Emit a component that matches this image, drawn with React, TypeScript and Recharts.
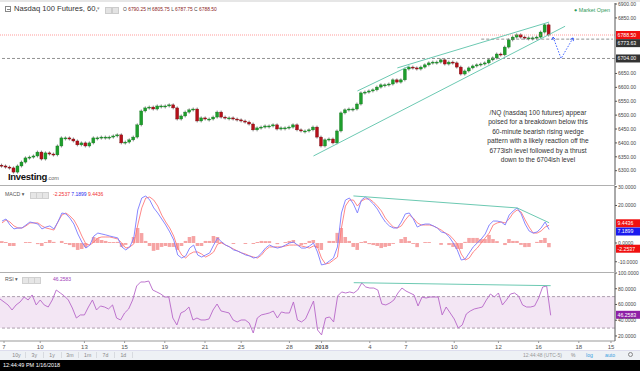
import React from 'react';
import { ComposedChart, Bar, Line, XAxis, YAxis, ReferenceLine, ReferenceArea } from 'recharts';

// ---------------- DATA ----------------
const firstOpen = 6320;
const closes = [
  6317, 6313, 6310, 6295, 6317, 6331, 6346, 6349, 6353, 6367,
  6342, 6364, 6360, 6357, 6389, 6418, 6418, 6414, 6407, 6393,
  6400, 6389, 6400, 6418, 6418, 6421, 6421, 6421, 6425, 6429,
  6400, 6403, 6411, 6421, 6465, 6515, 6526, 6529, 6522, 6533,
  6533, 6533, 6537, 6526, 6486, 6497, 6511, 6519, 6522, 6479,
  6490, 6486, 6486, 6493, 6511, 6493, 6490, 6490, 6486, 6483,
  6479, 6475, 6468, 6447, 6454, 6457, 6461, 6461, 6465, 6450,
  6454, 6454, 6457, 6465, 6447, 6443, 6443, 6447, 6457, 6421,
  6389, 6411, 6414, 6400, 6443, 6508, 6519, 6522, 6522, 6540,
  6580, 6583, 6587, 6591, 6601, 6609, 6609, 6612, 6627, 6619,
  6627, 6666, 6673, 6670, 6666, 6673, 6681, 6688, 6691, 6691,
  6699, 6684, 6691, 6688, 6673, 6648, 6659, 6670, 6677, 6681,
  6684, 6688, 6699, 6706, 6720, 6717, 6745, 6771, 6781, 6789,
  6781, 6778, 6778, 6778, 6781, 6799, 6825, 6788.5,
];

const macdLine = [
  11.7, 12.8, 9.6, 7.5, 8.0, 8.0, 9.6, 11.2, 10.7, 10.1,
  7.5, 8.5, 9.1, 7.5, 11.2, 16.0, 15.5, 13.3, 10.1, 4.8,
  0.5, -2.7, -1.1, 3.7, 5.3, 4.8, 4.3, 3.7, 3.2, 2.7,
  -2.1, -3.7, -2.1, 2.7, 17.6, 24.0, 25.1, 22.9, 18.7, 16.0,
  12.8, 9.6, 5.9, 1.6, -6.4, -8.0, -6.9, -2.7, -1.1, -6.4,
  -7.5, -6.4, -5.3, -1.1, 2.7, 0.5, -1.1, -2.1, -3.7, -4.3,
  -5.3, -6.4, -6.9, -8.0, -7.5, -5.3, -2.7, -1.1, -2.1, -2.7,
  -2.1, -1.1, 0, 0.5, -1.1, -2.7, -2.7, -1.6, 0, -4.8,
  -11.7, -11.2, -9.6, -8.0, -2.1, 16.0, 22.9, 24.0, 20.8, 16.0,
  22.9, 24.5, 22.9, 20.8, 18.1, 14.4, 11.2, 9.1, 8.0, 8.0,
  11.2, 15.5, 16.0, 12.8, 8.5, 9.6, 10.1, 10.1, 9.1, 8.0,
  5.9, 5.3, 3.2, 0, -3.7, -9.1, -8.5, -5.3, -2.1, 0,
  2.1, 4.8, 9.6, 11.7, 11.7, 11.2, 9.6, 14.9, 17.1, 18.7,
  15.5, 10.1, 6.4, 5.3, 5.9, 8.0, 11.2, 7.1899,
];

const signalLine = [
  10.7, 12.3, 11.2, 9.1, 8.0, 8.0, 9.1, 10.7, 10.7, 10.7,
  9.1, 8.0, 7.5, 6.9, 11.2, 14.9, 16.0, 14.4, 12.3, 8.5,
  3.7, -0.5, -1.1, 0.5, 2.7, 3.2, 3.2, 3.2, 2.7, 2.1,
  0, -2.7, -2.1, -0.5, 9.6, 18.7, 24.0, 24.5, 22.9, 19.7,
  14.9, 11.2, 8.0, 3.7, -2.7, -6.4, -8.0, -5.9, -4.8, -4.8,
  -5.9, -7.5, -6.4, -4.8, -0.5, 0, -1.1, -2.1, -3.2, -4.3,
  -5.3, -5.9, -6.9, -7.5, -8.0, -6.4, -3.7, -2.1, -2.1, -2.1,
  -2.1, -1.6, -1.1, -1.1, -1.1, -1.6, -2.1, -2.7, -1.6, -2.1,
  -8.0, -11.2, -10.7, -9.1, -7.5, 8.0, 19.7, 22.9, 22.9, 19.7,
  22.4, 23.5, 23.5, 21.9, 19.7, 17.1, 13.3, 10.7, 8.5, 8.0,
  9.1, 12.3, 14.9, 13.3, 10.7, 9.6, 9.6, 9.6, 9.1, 8.0,
  6.9, 5.3, 4.3, 2.1, -0.5, -5.9, -9.1, -8.0, -4.8, -2.7,
  0, 2.7, 5.3, 9.6, 10.7, 11.2, 10.7, 12.8, 16.0, 17.6,
  16.5, 12.3, 8.5, 5.3, 5.3, 6.4, 8.5, 9.4436,
];

const rsiLine = [
  67.0, 63.2, 59.4, 53.0, 59.4, 63.2, 69.5, 65.7, 72.1, 59.4,
  65.7, 59.4, 56.8, 65.7, 78.4, 74.6, 70.8, 65.7, 55.5, 42.8,
  46.7, 46.7, 56.8, 65.7, 53.0, 58.1, 56.8, 54.3, 59.4, 42.8,
  40.3, 49.2, 54.3, 65.7, 83.5, 88.6, 88.6, 89.8, 78.4, 75.9,
  73.3, 69.5, 69.5, 42.8, 34.0, 49.2, 51.7, 56.8, 40.3, 42.8,
  40.3, 40.3, 41.6, 53.0, 60.6, 51.7, 50.5, 49.2, 40.3, 37.8,
  40.3, 40.3, 36.5, 23.8, 42.8, 46.7, 47.9, 49.2, 51.7, 42.8,
  50.5, 49.2, 49.2, 63.2, 40.3, 37.8, 41.6, 53.0, 64.4, 27.6,
  21.3, 42.8, 44.1, 37.8, 70.8, 75.9, 74.6, 75.9, 74.6, 78.4,
  87.3, 82.2, 80.9, 80.9, 78.4, 60.6, 59.4, 61.9, 65.7, 74.6,
  80.9, 77.1, 74.6, 72.1, 58.1, 69.5, 68.2, 69.5, 69.5, 69.5,
  46.7, 56.8, 49.2, 41.6, 30.1, 34.0, 47.9, 51.7, 54.3, 55.5,
  56.8, 65.7, 73.3, 69.5, 74.6, 59.4, 65.7, 73.3, 74.6, 70.8,
  59.4, 56.8, 56.8, 58.1, 68.2, 82.2, 83.5, 46.2583,
];

// drawn trend lines: [slot index, value]
const wedgeUpperA: [number, number][] = [[89, 6587], [102, 6677]];
const wedgeUpperB: [number, number][] = [[99, 6670], [137, 6835]];
const wedgeLower: [number, number][] = [[78, 6353], [141, 6820]];
const projection: [number, number][] = [[138, 6781], [140, 6704], [143, 6778]];
const macdDivergence: [number, number][] = [[88, 25.1], [129, 18.7], [137, 10.8]];
const rsiDivergence: [number, number][] = [[88, 87.7], [137, 83.9]];

const dateTickIndex = [1, 10, 21, 31, 41, 51, 60, 72, 80, 92, 101, 113, 124, 134, 144, 152];
const dateTickLabel = ['7', '10', '13', '15', '19', '21', '25', '28', '2018', '4', '7', '10', '12', '16', '18', '15'];

const priceTicks = [6300, 6350, 6400, 6450, 6500, 6550, 6600, 6650, 6850, 6900];
const macdTicks = [-10, 0, 20, 30];
const rsiTicks = [20, 40, 60, 80, 100];

const lastBar = { o: 6790.25, h: 6805.75, l: 6787.75, c: 6788.5 };
const levelLast = 6788.5;
const levelReaction = 6773.63;
const levelTarget = 6704.0;

const noteLines = [
  '/NQ (nasdaq 100 futures) appear',
  'poised for a breakdown below this',
  '60-minute bearish rising wedge',
  'pattern with a likely reaction off the',
  '6773ish level followed by a thrust',
  'down to the 6704ish level',
];

const rangeButtons = ['10y', '3y', '1y', '3m', '1m', '7d', '1d'];

// ---------------- TABLE ----------------
const SLOTS = 154;
const rows: any[] = Array.from({ length: SLOTS }, (_, i) => {
  const r: any = { i };
  if (i < closes.length) {
    const close = closes[i];
    const open = i === 0 ? firstOpen : closes[i - 1];
    r.open = open;
    r.close = close;
    r.body = [Math.min(open, close), Math.max(open, close)];
    r.macd = macdLine[i];
    r.signal = signalLine[i];
    r.hist = macdLine[i] - signalLine[i];
    r.rsi = rsiLine[i];
  }
  return r;
});
const put = (key: string, pts: [number, number][]) => pts.forEach(([i, v]) => { rows[i][key] = v; });
put('upA', wedgeUpperA);
put('upB', wedgeUpperB);
put('low', wedgeLower);
put('proj', projection);
put('mdiv', macdDivergence);
put('rdiv', rsiDivergence);

const lastMacd = macdLine[macdLine.length - 1];
const lastSignal = signalLine[signalLine.length - 1];
const lastHist = lastMacd - lastSignal;
const lastRsi = rsiLine[rsiLine.length - 1];

const FONT = '"Liberation Sans", Arial, "DejaVu Sans", sans-serif';
const TEAL = '#6cc9b2';

// ---------------- SHAPES ----------------
function Candle(props: any) {
  const { x, y, width, height, payload } = props;
  if (!payload || payload.close == null || x == null || y == null) return null;
  const up = payload.close >= payload.open;
  let top = y;
  let h = height || 0;
  if (h < 0) { top = y + h; h = -h; }
  h = Math.max(h, 1);
  const cx = x + width / 2;
  return (
    <g>
      <line x1={cx} x2={cx} y1={top - 1.5} y2={top + h + 1.5} stroke="#3a3a3a" strokeWidth={0.6} />
      <rect x={x} y={top} width={width} height={h} fill={up ? '#1e9e2c' : '#b51019'} stroke={up ? '#15751f' : '#6e0a10'} strokeWidth={0.35} />
    </g>
  );
}

function makeTag(text: string, bg: string, dy: number) {
  return (props: any) => {
    const vb = props.viewBox || {};
    const x0 = (vb.x ?? 0) + (vb.width ?? 0) + 1;
    const yc = (vb.y ?? 0) + dy;
    return (
      <g>
        <rect x={x0} y={yc - 4} width={24} height={8} fill={bg} />
        <text x={x0 + 1.5} y={yc + 1.9} fontSize={5.2} fill="#fff" fontFamily={FONT}>{text}</text>
      </g>
    );
  };
}

function ProjDot(props: any) {
  const { cx, cy, payload } = props;
  if (cx == null || cy == null || payload.proj == null) return null;
  const first = payload.i === projection[0][0];
  const last = payload.i === projection[projection.length - 1][0];
  if (!first && !last) return null;
  const ang = first ? -100 : -62;
  const a = (ang * Math.PI) / 180;
  const back = 3.2;
  const w = 0.6;
  const p1 = { x: cx - back * Math.cos(a - w), y: cy - back * Math.sin(a - w) };
  const p2 = { x: cx - back * Math.cos(a + w), y: cy - back * Math.sin(a + w) };
  return (
    <polyline points={`${p1.x},${p1.y} ${cx},${cy} ${p2.x},${p2.y}`} fill="none" stroke="#2f55ff" strokeWidth={0.9} />
  );
}

function DateTick(props: any) {
  const { x, y, payload } = props;
  const k = dateTickIndex.indexOf(payload.value);
  const label = k >= 0 ? dateTickLabel[k] : '';
  return (
    <text x={x} y={y + 5.5} textAnchor="middle" fontSize={6} fill="#555" fontFamily={FONT} fontWeight={label === '2018' ? 'bold' : 'normal'}>
      {label}
    </text>
  );
}

const axisTick = { fontSize: 5, fill: '#444', fontFamily: FONT };

// ---------------- APP ----------------
export default function App() {
  return (
    <div style={{ position: 'absolute', left: 0, top: 0, width: 640, height: 371, background: '#fff', overflow: 'hidden', fontFamily: FONT }}>
      <div style={{ position: 'absolute', left: 0, top: 0, width: 640, height: 2, background: '#e6e6e6' }} />

      {/* MAIN PRICE PANEL */}
      <div style={{ position: 'absolute', left: 0, top: 0 }}>
        <ComposedChart width={640} height={186} data={rows} margin={{ top: 3, right: 0, left: 0, bottom: 1 }}>
          <XAxis dataKey="i" hide />
          <YAxis
            orientation="right"
            width={25}
            type="number"
            domain={[6248.5, 6903.7]}
            allowDataOverflow
            ticks={priceTicks}
            interval={0}
            tickFormatter={(v: number) => v.toFixed(2)}
            tick={axisTick}
            tickSize={2}
            tickMargin={1}
            axisLine={{ stroke: '#555' }}
            tickLine={{ stroke: '#555' }}
          />
          <ReferenceLine y={levelTarget} stroke="#777" strokeDasharray="3 2" strokeWidth={0.8} label={makeTag(levelTarget.toFixed(2), '#333', 0)} />
          <ReferenceLine segment={[{ x: 120, y: levelReaction }, { x: 153, y: levelReaction }]} stroke="#777" strokeDasharray="3 2" strokeWidth={0.8} />
          <ReferenceLine y={levelReaction} stroke="none" label={makeTag(levelReaction.toFixed(2), '#333', 4)} />
          <ReferenceLine y={levelLast} stroke="#ff7070" strokeWidth={0.7} strokeDasharray="1 1" label={makeTag(levelLast.toFixed(2), '#f01010', 0)} />
          <Bar dataKey="body" barSize={3} shape={<Candle />} isAnimationActive={false} />
          <Line dataKey="upA" stroke={TEAL} strokeWidth={1} dot={false} connectNulls isAnimationActive={false} />
          <Line dataKey="upB" stroke={TEAL} strokeWidth={1} dot={false} connectNulls isAnimationActive={false} />
          <Line dataKey="low" stroke={TEAL} strokeWidth={1} dot={false} connectNulls isAnimationActive={false} />
          <Line dataKey="proj" stroke="#2f55ff" strokeWidth={0.9} strokeDasharray="1.5 1.5" dot={<ProjDot />} connectNulls isAnimationActive={false} />
        </ComposedChart>
      </div>

      {/* MACD PANEL (plot 186..272) */}
      <div style={{ position: 'absolute', left: 0, top: 182 }}>
        <ComposedChart width={640} height={90} data={rows} margin={{ top: 4, right: 0, left: 0, bottom: 0 }}>
          <XAxis dataKey="i" hide />
          <YAxis
            orientation="right"
            width={25}
            type="number"
            domain={[-15.47, 30.4]}
            allowDataOverflow
            ticks={macdTicks}
            interval={0}
            tickFormatter={(v: number) => v.toFixed(4)}
            tick={axisTick}
            tickSize={2}
            tickMargin={1}
            axisLine={{ stroke: '#555' }}
            tickLine={{ stroke: '#555' }}
          />
          <Bar dataKey="hist" barSize={4} fill="#f6a4a4" isAnimationActive={false} />
          <Line dataKey="signal" stroke="#ff7b7b" strokeWidth={0.9} dot={false} isAnimationActive={false} />
          <Line dataKey="macd" stroke="#7a7aff" strokeWidth={0.9} dot={false} isAnimationActive={false} />
          <Line dataKey="mdiv" stroke={TEAL} strokeWidth={1} dot={false} connectNulls isAnimationActive={false} />
          <ReferenceLine y={lastSignal} stroke="none" label={makeTag(lastSignal.toFixed(4), '#f01010', -2)} />
          <ReferenceLine y={lastMacd} stroke="none" label={makeTag(lastMacd.toFixed(4), '#1a1aee', 2)} />
          <ReferenceLine y={lastHist} stroke="none" label={makeTag(lastHist.toFixed(4), '#f01010', 1.5)} />
        </ComposedChart>
      </div>

      {/* RSI PANEL (plot 273..341) */}
      <div style={{ position: 'absolute', left: 0, top: 268 }}>
        <ComposedChart width={640} height={82} data={rows} margin={{ top: 5, right: 0, left: 0, bottom: 0 }}>
          <XAxis
            dataKey="i"
            ticks={dateTickIndex}
            interval={0}
            height={9}
            tick={<DateTick />}
            tickSize={2}
            tickMargin={0}
            axisLine={{ stroke: '#999' }}
            tickLine={{ stroke: '#999' }}
          />
          <YAxis
            orientation="right"
            width={25}
            type="number"
            domain={[13.6, 100]}
            allowDataOverflow
            ticks={rsiTicks}
            interval={0}
            tickFormatter={(v: number) => v.toFixed(4)}
            tick={axisTick}
            tickSize={2}
            tickMargin={1}
            axisLine={{ stroke: '#555' }}
            tickLine={{ stroke: '#555' }}
          />
          <ReferenceArea y1={30} y2={70} fill="#f3e6f4" fillOpacity={1} stroke="none" />
          <ReferenceLine y={70} stroke="#9a8a9c" strokeDasharray="3 2" strokeWidth={0.8} />
          <ReferenceLine y={30} stroke="#9a8a9c" strokeDasharray="3 2" strokeWidth={0.8} />
          <Line dataKey="rsi" stroke="#b767c8" strokeWidth={0.9} dot={false} isAnimationActive={false} />
          <Line dataKey="rdiv" stroke={TEAL} strokeWidth={1} dot={false} connectNulls isAnimationActive={false} />
          <ReferenceLine y={lastRsi} stroke="none" label={makeTag(lastRsi.toFixed(4), '#8e1fa6', -0.5)} />
        </ComposedChart>
      </div>

      {/* panel separators */}
      <div style={{ position: 'absolute', left: 0, top: 185, width: 615, height: 1, background: '#b0b0b0' }} />
      <div style={{ position: 'absolute', left: 0, top: 272, width: 615, height: 1, background: '#b0b0b0' }} />

      {/* header */}
      <div style={{ position: 'absolute', left: 5, top: 6, width: 6, height: 6, border: '0.8px solid #888', boxSizing: 'border-box' }}>
        <div style={{ position: 'absolute', left: 1, top: 2, width: 2.5, height: 0.8, background: '#888' }} />
      </div>
      <div style={{ position: 'absolute', left: 14, top: 4, fontSize: 7.6, color: '#333', whiteSpace: 'nowrap' }}>Nasdaq 100 Futures, 60,</div>
      <div style={{ position: 'absolute', left: 97, top: 5, fontSize: 5, color: '#999' }}>▾</div>
      <div style={{ position: 'absolute', left: 105, top: 7, width: 5, height: 5, background: '#e3e3e3', border: '0.5px solid #ccc' }} />
      <div style={{ position: 'absolute', left: 112, top: 7, width: 5, height: 5, background: '#e3e3e3', border: '0.5px solid #ccc' }} />
      <div style={{ position: 'absolute', left: 123, top: 7, fontSize: 4.9, whiteSpace: 'nowrap', color: '#444' }}>
        O <span style={{ color: '#8c1c1c' }}>{lastBar.o.toFixed(2)}</span> H <span style={{ color: '#8c1c1c' }}>{lastBar.h.toFixed(2)}</span> L{' '}
        <span style={{ color: '#8c1c1c' }}>{lastBar.l.toFixed(2)}</span> C <span style={{ color: '#8c1c1c' }}>{lastBar.c.toFixed(2)}</span>
      </div>
      <div style={{ position: 'absolute', left: 574, top: 7, fontSize: 5.4, color: '#2f9a5a', whiteSpace: 'nowrap' }}>● Market Open</div>

      {/* investing logo */}
      <div style={{ position: 'absolute', left: 8, top: 171, fontSize: 9.5, fontWeight: 'bold', color: '#111', letterSpacing: -0.3, whiteSpace: 'nowrap' }}>
        Investing<span style={{ fontSize: 5.5, fontWeight: 'normal', color: '#666', letterSpacing: 0 }}>.com</span>
      </div>

      {/* annotation */}
      <div style={{ position: 'absolute', left: 465, top: 108, width: 146, textAlign: 'center', fontSize: 6.6, lineHeight: '9.4px', color: '#333' }}>
        {noteLines.map((t, k) => (
          <div key={k} style={{ whiteSpace: 'nowrap' }}>{t}</div>
        ))}
      </div>

      {/* MACD legend */}
      <div style={{ position: 'absolute', left: 5, top: 191, fontSize: 5.2, color: '#555', whiteSpace: 'nowrap' }}>MACD ▾</div>
      {[30, 36, 42].map((x) => (
        <div key={x} style={{ position: 'absolute', left: x, top: 192, width: 4.5, height: 4.5, background: '#e6e6e6', border: '0.5px solid #d0d0d0' }} />
      ))}
      <div style={{ position: 'absolute', left: 53, top: 191, fontSize: 5, whiteSpace: 'nowrap' }}>
        <span style={{ color: '#f03030' }}>{lastHist.toFixed(4)}</span>{' '}
        <span style={{ color: '#2a2aee' }}>{lastMacd.toFixed(4)}</span>{' '}
        <span style={{ color: '#f03030' }}>{lastSignal.toFixed(4)}</span>
      </div>

      {/* RSI legend */}
      <div style={{ position: 'absolute', left: 5, top: 276, fontSize: 5.2, color: '#555', whiteSpace: 'nowrap' }}>RSI ▾</div>
      {[22, 28, 34].map((x) => (
        <div key={x} style={{ position: 'absolute', left: x, top: 277, width: 4.5, height: 4.5, background: '#e6e6e6', border: '0.5px solid #d0d0d0' }} />
      ))}
      <div style={{ position: 'absolute', left: 53, top: 276, fontSize: 5, color: '#a040b8', whiteSpace: 'nowrap' }}>{lastRsi.toFixed(4)}</div>

      {/* toolbar */}
      <div style={{ position: 'absolute', left: 0, top: 350, width: 640, height: 10, background: '#eef1f5', borderTop: '0.5px solid #dde' }} />
      {rangeButtons.map((t, k) => (
        <div key={t} style={{ position: 'absolute', left: 8 + k * 17.8, top: 351.5, width: 17, textAlign: 'center', fontSize: 5.2, color: '#888', borderRight: '0.5px solid #d8dbe0' }}>{t}</div>
      ))}
      <div style={{ position: 'absolute', left: 523, top: 351.5, fontSize: 5, color: '#999', whiteSpace: 'nowrap' }}>12:44:48 (UTC-5)</div>
      <div style={{ position: 'absolute', left: 571, top: 351.5, fontSize: 5, color: '#888' }}>%</div>
      <div style={{ position: 'absolute', left: 586, top: 351.5, fontSize: 5.2, color: '#3aa0e0' }}>log</div>
      <div style={{ position: 'absolute', left: 605, top: 351.5, fontSize: 5.2, color: '#3aa0e0' }}>auto</div>
      <div style={{ position: 'absolute', left: 628, top: 352, width: 5, height: 5, borderRadius: 3, border: '0.8px solid #888', boxSizing: 'border-box' }} />

      {/* bottom bar */}
      <div style={{ position: 'absolute', left: 0, top: 360, width: 640, height: 11, background: '#000' }} />
      <div style={{ position: 'absolute', left: 3, top: 362, fontSize: 5.5, color: '#fff', whiteSpace: 'nowrap' }}>12:44:49 PM 1/16/2018</div>
    </div>
  );
}
